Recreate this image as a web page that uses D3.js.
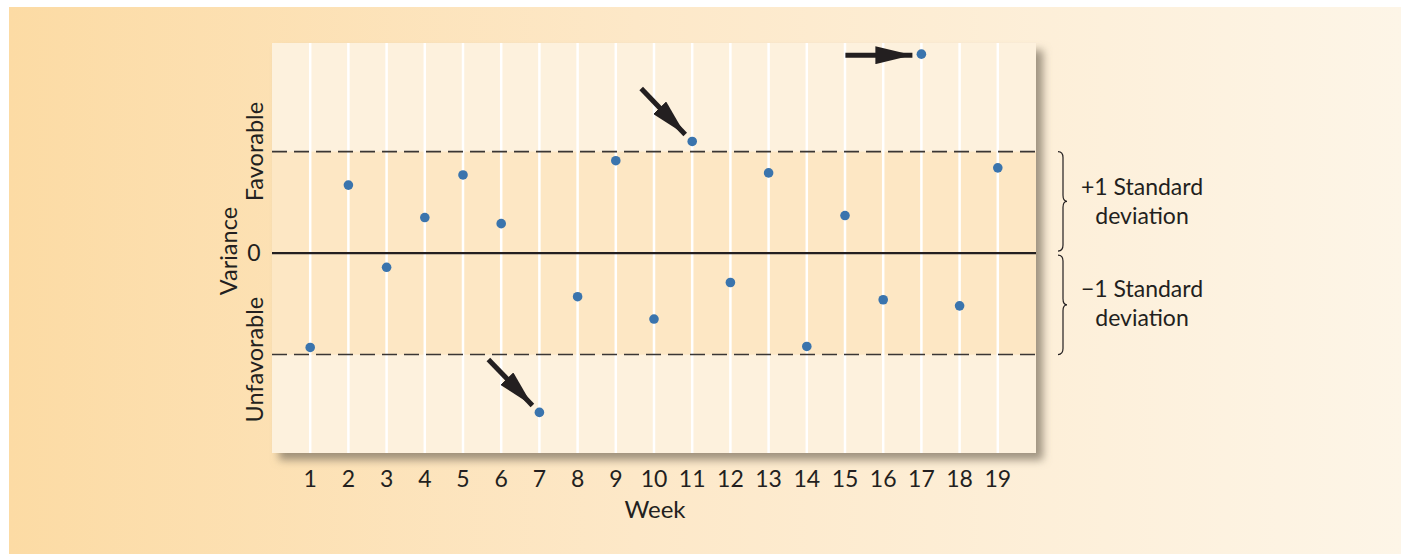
<!DOCTYPE html>
<html>
<head>
<meta charset="utf-8">
<script src="https://cdn.jsdelivr.net/npm/d3@7"></script>
<style>
  body { margin: 0; background: #fff; }
  text { font-family: Lato, "Open Sans", sans-serif; fill: #231f20; }
</style>
</head>
<body>
<div class="chart"></div>
<script>
// chart data
var weeks = [1, 2, 3, 4, 5, 6, 7, 8, 9, 10, 11, 12, 13, 14, 15, 16, 17, 18, 19];
var variance = [-0.93, 0.67, -0.14, 0.35, 0.77, 0.29, -1.57, -0.43, 0.91, -0.65,
                1.10, -0.29, 0.79, -0.92, 0.37, -0.46, 1.96, -0.52, 0.84];
var flaggedWeeks = [7, 11, 17];
var sdLimits = [1, -1];
var bandLabels = ["+1 Standard", "\u22121 Standard"];

var svgWidth = 1401, svgHeight = 554;
var margin = { top: 43, right: 365, bottom: 101, left: 272 };
var chartWidth = svgWidth - margin.left - margin.right;
var chartHeight = svgHeight - margin.top - margin.bottom;

var svg = d3.select(".chart").append("svg")
  .attr("width", svgWidth)
  .attr("height", svgHeight);

var defs = svg.append("defs");
var grad = defs.append("linearGradient").attr("id", "bg").attr("x1", 0).attr("x2", 1);
grad.append("stop").attr("offset", 0).attr("stop-color", "#fcdba4");
grad.append("stop").attr("offset", 0.45).attr("stop-color", "#fde8c8");
grad.append("stop").attr("offset", 1).attr("stop-color", "#fdf5e7");

var shadow = defs.append("filter").attr("id", "shadow")
  .attr("x", "-5%").attr("y", "-5%").attr("width", "115%").attr("height", "115%");
shadow.append("feDropShadow")
  .attr("dx", 7).attr("dy", 7).attr("stdDeviation", 4)
  .attr("flood-color", "#807563").attr("flood-opacity", 0.75);

defs.append("marker").attr("id", "arrow")
  .attr("viewBox", "0 0 10 10").attr("refX", 10).attr("refY", 5)
  .attr("markerWidth", 7.4).attr("markerHeight", 3.6)
  .attr("markerUnits", "strokeWidth")
  .attr("orient", "auto")
  .attr("preserveAspectRatio", "none")
  .append("path").attr("d", "M0,0L10,5L0,10Z").attr("fill", "#231f20");

// background panel
svg.append("rect")
  .attr("x", 9).attr("y", 7)
  .attr("width", svgWidth - 9).attr("height", svgHeight - 7)
  .attr("fill", "url(#bg)");

var chartGroup = svg.append("g")
  .attr("transform", `translate(${margin.left}, ${margin.top})`);

// scales
var xScale = d3.scaleLinear().domain([0, 20]).range([0, chartWidth]);
var yScale = d3.scaleLinear().domain([-1.97, 2.07]).range([chartHeight, 0]);

// plot area with shadow
chartGroup.append("rect")
  .attr("width", chartWidth).attr("height", chartHeight)
  .attr("fill", "#fdf1dd")
  .attr("filter", "url(#shadow)");

// +/- 1 sd band
chartGroup.append("rect")
  .attr("x", 0).attr("y", yScale(1))
  .attr("width", chartWidth).attr("height", yScale(-1) - yScale(1))
  .attr("fill", "#fde7c4");

// vertical week lines
chartGroup.selectAll(".week-line")
  .data(weeks)
  .enter()
  .append("line")
  .attr("class", "week-line")
  .attr("x1", d => xScale(d)).attr("x2", d => xScale(d))
  .attr("y1", 0).attr("y2", chartHeight)
  .attr("stroke", "#fff").attr("stroke-width", 2.5);

// dashed limits
chartGroup.selectAll(".limit")
  .data(sdLimits)
  .enter()
  .append("line")
  .attr("class", "limit")
  .attr("x1", 0).attr("x2", chartWidth)
  .attr("y1", d => yScale(d)).attr("y2", d => yScale(d))
  .attr("stroke", "#3a3634").attr("stroke-width", 1.6)
  .attr("stroke-dasharray", "15,7");

// zero line
chartGroup.append("line")
  .attr("x1", 0).attr("x2", chartWidth)
  .attr("y1", yScale(0)).attr("y2", yScale(0))
  .attr("stroke", "#231f20").attr("stroke-width", 2.2);

// arrows toward flagged points
var flagged = weeks.map((w, i) => ({ week: w, value: variance[i] }))
  .filter(d => flaggedWeeks.indexOf(d.week) >= 0);

chartGroup.selectAll(".flag-arrow")
  .data(flagged)
  .enter()
  .append("line")
  .attr("class", "flag-arrow")
  .attr("x1", d => d.week === 17 ? xScale(d.week) - 76 : xScale(d.week) - 51)
  .attr("y1", d => d.week === 17 ? yScale(d.value) + 1 : yScale(d.value) - 53)
  .attr("x2", d => d.week === 17 ? xScale(d.week) - 9 : xScale(d.week) - 7)
  .attr("y2", d => d.week === 17 ? yScale(d.value) + 1 : yScale(d.value) - 7)
  .attr("stroke", "#231f20").attr("stroke-width", 5)
  .attr("marker-end", "url(#arrow)");

// points
chartGroup.selectAll(".dot")
  .data(weeks)
  .enter()
  .append("circle")
  .attr("class", "dot")
  .attr("cx", d => xScale(d))
  .attr("cy", (d, i) => yScale(variance[i]))
  .attr("r", 4.8)
  .attr("fill", "#3a74ad");

// x axis labels
chartGroup.selectAll(".tick-label")
  .data(weeks)
  .enter()
  .append("text")
  .attr("class", "tick-label")
  .attr("x", d => xScale(d))
  .attr("y", chartHeight + 34)
  .attr("text-anchor", "middle")
  .style("font-size", "23px")
  .text(d => d);

chartGroup.append("text")
  .attr("x", xScale(10) + 1)
  .attr("y", chartHeight + 65)
  .attr("text-anchor", "middle")
  .style("font-size", "24px")
  .text("Week");

// y axis labels
function vText(x, y, label) {
  chartGroup.append("text")
    .attr("transform", `translate(${x}, ${y}) rotate(-90)`)
    .attr("text-anchor", "middle")
    .attr("dy", "0.35em")
    .style("font-size", "23.5px")
    .text(label);
}
vText(-17, yScale(1.0), "Favorable");
vText(-43, yScale(0.02), "Variance");
vText(-17, yScale(-1.05), "Unfavorable");

chartGroup.append("text")
  .attr("x", -18).attr("y", yScale(0))
  .attr("dy", "0.35em")
  .attr("text-anchor", "middle")
  .style("font-size", "23px")
  .text("0");

// braces and band labels
var braceX = chartWidth + 22;
function brace(yTop, yBot) {
  var yMid = (yTop + yBot) / 2;
  var p = d3.path();
  p.moveTo(braceX, yTop);
  p.quadraticCurveTo(braceX + 5, yTop, braceX + 5, yTop + 6);
  p.lineTo(braceX + 5, yMid - 6);
  p.quadraticCurveTo(braceX + 5, yMid, braceX + 9, yMid);
  p.quadraticCurveTo(braceX + 5, yMid, braceX + 5, yMid + 6);
  p.lineTo(braceX + 5, yBot - 6);
  p.quadraticCurveTo(braceX + 5, yBot, braceX, yBot);
  chartGroup.append("path")
    .attr("d", p.toString())
    .attr("fill", "none")
    .attr("stroke", "#231f20").attr("stroke-width", 1.2);
}
brace(yScale(1), yScale(0) - 2);
brace(yScale(0) + 2, yScale(-1));

sdLimits.forEach(function (s, i) {
  var yMid = (yScale(s) + yScale(0)) / 2;
  var t = chartGroup.append("text")
    .attr("x", chartWidth + 106)
    .attr("y", yMid - 7)
    .attr("text-anchor", "middle")
    .style("font-size", "23px");
  t.append("tspan").text(bandLabels[i]);
  t.append("tspan")
    .attr("x", chartWidth + 106)
    .attr("dy", 29)
    .text("deviation");
});
</script>
</body>
</html>
